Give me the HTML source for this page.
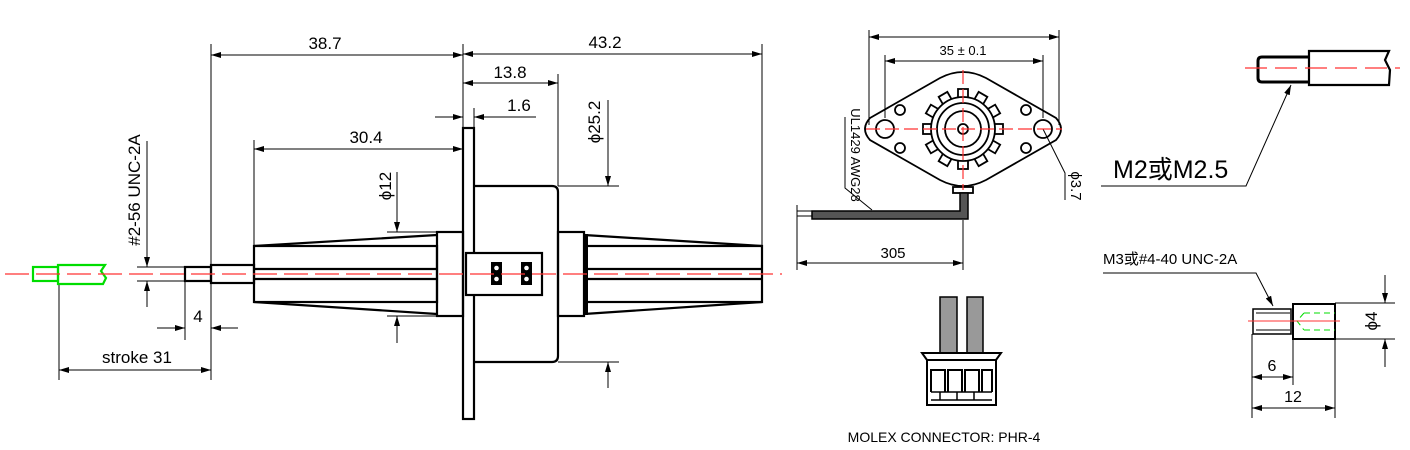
<!DOCTYPE html>
<html><head><meta charset="utf-8"><style>
html,body{margin:0;padding:0;background:#fff;}
svg{display:block}
text{font-family:"Liberation Sans Narrow","Liberation Sans","Noto Sans CJK SC",sans-serif;fill:#000}
</style></head><body>
<svg width="1410" height="450" viewBox="0 0 1410 450" xmlns="http://www.w3.org/2000/svg">
<defs>
<marker id="a" viewBox="0 0 10 6" refX="10" refY="3" markerWidth="10" markerHeight="6" markerUnits="userSpaceOnUse" orient="auto-start-reverse"><path d="M0,0L10,3L0,6z" fill="#000"/></marker>
</defs>
<g stroke="#000" stroke-width="1" fill="none">
<line x1="211" y1="44" x2="211" y2="380"/>
<line x1="463" y1="44" x2="463" y2="128"/>
<line x1="762" y1="44" x2="762" y2="246"/>
<line x1="558" y1="74" x2="558" y2="186"/>
<line x1="474" y1="108" x2="474" y2="128"/>
<line x1="254" y1="140" x2="254" y2="246"/>
<line x1="59" y1="284" x2="59" y2="380"/>
<line x1="185" y1="281" x2="185" y2="340"/>
<line x1="137" y1="267" x2="185" y2="267"/>
<line x1="137" y1="281" x2="185" y2="281"/>
<line x1="387" y1="232" x2="437" y2="232"/>
<line x1="387" y1="316" x2="437" y2="316"/>
<line x1="558" y1="186" x2="619" y2="186"/>
<line x1="558" y1="362" x2="619" y2="362"/>
<line x1="211" y1="55" x2="463" y2="55" marker-start="url(#a)" marker-end="url(#a)"/>
<line x1="463" y1="54" x2="762" y2="54" marker-start="url(#a)" marker-end="url(#a)"/>
<line x1="463" y1="83" x2="558" y2="83" marker-start="url(#a)" marker-end="url(#a)"/>
<line x1="435" y1="117" x2="463" y2="117" marker-end="url(#a)"/>
<line x1="536" y1="117" x2="474" y2="117" marker-end="url(#a)"/>
<line x1="254" y1="149" x2="463" y2="149" marker-start="url(#a)" marker-end="url(#a)"/>
<line x1="157" y1="328" x2="185" y2="328" marker-end="url(#a)"/>
<line x1="238" y1="328" x2="211" y2="328" marker-end="url(#a)"/>
<line x1="59" y1="370" x2="211" y2="370" marker-start="url(#a)" marker-end="url(#a)"/>
<line x1="147" y1="141" x2="147" y2="267" marker-end="url(#a)"/>
<line x1="147" y1="307" x2="147" y2="281" marker-end="url(#a)"/>
<line x1="397" y1="172" x2="397" y2="232" marker-end="url(#a)"/>
<line x1="397" y1="343" x2="397" y2="316" marker-end="url(#a)"/>
<line x1="608" y1="100" x2="608" y2="186" marker-end="url(#a)"/>
<line x1="608" y1="388" x2="608" y2="362" marker-end="url(#a)"/>
</g>
<g stroke="#000" stroke-width="2.2" fill="none">
<rect x="185" y="267" width="26" height="14"/>
<rect x="211" y="265" width="43" height="18"/>
<path d="M254,246L437,235M254,302L437,314"/>
<rect x="254" y="246" width="183" height="56"/>
<line x1="254" y1="269" x2="437" y2="269"/>
<line x1="254" y1="279" x2="437" y2="279"/>
<rect x="437" y="232" width="26" height="84"/>
<rect x="463" y="128" width="11" height="291"/>
<path d="M474,186H552Q558,186 558,192V356Q558,362 552,362H474"/>
<rect x="466" y="253" width="76" height="42" fill="#fff"/>
<rect x="558" y="232" width="26" height="84"/>
<path d="M584,235L762,246M584,314L762,302"/>
<rect x="586" y="246" width="176" height="56"/>
<line x1="586" y1="269" x2="762" y2="269"/>
<line x1="586" y1="279" x2="762" y2="279"/>
<line x1="586" y1="234" x2="586" y2="315" stroke-width="4"/>
</g>
<rect x="491" y="262" width="11" height="23" fill="#000"/>
<rect x="521" y="262" width="11" height="23" fill="#000"/>
<g fill="#fff"><circle cx="496.5" cy="268" r="2.3"/><circle cx="496.5" cy="279" r="2.3"/><circle cx="526.5" cy="268" r="2.3"/><circle cx="526.5" cy="279" r="2.3"/></g>
<g stroke="#00dd00" stroke-width="2.2" fill="none">
<rect x="33" y="267" width="25" height="14"/>
<path d="M58,265H105L101,271L106,278L103,284H58Z"/>
</g>
<line x1="5" y1="274" x2="782" y2="274" stroke="#f33" stroke-width="1.3" stroke-dasharray="24,7"/>
<g font-size="17">
<text x="325" y="49" text-anchor="middle">38.7</text>
<text x="605" y="48" text-anchor="middle">43.2</text>
<text x="510" y="78" text-anchor="middle">13.8</text>
<text x="519" y="111" text-anchor="middle">1.6</text>
<text x="366" y="143" text-anchor="middle">30.4</text>
<text x="198" y="322" text-anchor="middle">4</text>
<text x="137" y="363" text-anchor="middle">stroke 31</text>
<text transform="translate(140,190) rotate(-90)" text-anchor="middle">#2-56 UNC-2A</text>
<text transform="translate(391,186) rotate(-90)" text-anchor="middle">ϕ12</text>
<text transform="translate(600,122) rotate(-90)" text-anchor="middle">ϕ25.2</text>
</g>
<g stroke="#000" stroke-width="1" fill="none">
<line x1="869" y1="30" x2="869" y2="125"/>
<line x1="1059" y1="30" x2="1059" y2="125"/>
<line x1="885" y1="55" x2="885" y2="118"/>
<line x1="1043" y1="55" x2="1043" y2="118"/>
<line x1="869" y1="37" x2="1059" y2="37" marker-start="url(#a)" marker-end="url(#a)"/>
<line x1="885" y1="61" x2="1043" y2="61" marker-start="url(#a)" marker-end="url(#a)"/>
<path d="M1043,129L1065,173V200"/>
<path d="M872,210L845,188V117"/>
<line x1="797" y1="205" x2="797" y2="270"/>
<line x1="963" y1="220" x2="963" y2="270"/>
<line x1="797" y1="263" x2="963" y2="263" marker-start="url(#a)" marker-end="url(#a)"/>
<path d="M797,211H812M797,216H812"/>
</g>
<g stroke="#000" stroke-width="1.8" fill="none">
<path d="M870,118L940,78Q963,66 986,78L1056,118Q1066,129 1056,140L986,180Q963,192 940,180L870,140Q860,129 870,118Z"/>
<circle cx="885" cy="129" r="9"/><circle cx="1043" cy="129" r="9"/>
<circle cx="900" cy="110" r="5"/><circle cx="900" cy="148" r="5"/>
<circle cx="1026" cy="110" r="5"/><circle cx="1026" cy="148" r="5"/>
<g id="t"><rect x="958" y="89" width="10" height="14" fill="#fff"/></g>
<use href="#t" transform="rotate(30 963 129)"/><use href="#t" transform="rotate(60 963 129)"/><use href="#t" transform="rotate(90 963 129)"/><use href="#t" transform="rotate(120 963 129)"/><use href="#t" transform="rotate(150 963 129)"/><use href="#t" transform="rotate(180 963 129)"/><use href="#t" transform="rotate(210 963 129)"/><use href="#t" transform="rotate(240 963 129)"/><use href="#t" transform="rotate(270 963 129)"/><use href="#t" transform="rotate(300 963 129)"/><use href="#t" transform="rotate(330 963 129)"/>
<circle cx="963" cy="129" r="32" fill="#fff"/>
<circle cx="963" cy="129" r="26"/><circle cx="963" cy="129" r="18"/>
<circle cx="963" cy="129" r="5"/>
<rect x="953" y="187" width="20" height="6"/>
</g>
<path d="M960,193V211H812V219H968V193Z" fill="#555" stroke="#000" stroke-width="1.5"/>
<g stroke="#f33" stroke-width="1.2" stroke-dasharray="14,5"><line x1="866" y1="129" x2="1062" y2="129"/><line x1="963" y1="70" x2="963" y2="190"/></g>
<g font-size="13">
<text x="963" y="55" text-anchor="middle">35 ± 0.1</text>
<text x="893" y="258" text-anchor="middle" font-size="15">305</text>
<text transform="translate(851,155) rotate(90)" text-anchor="middle">UL1429 AWG28</text>
<text transform="translate(1071,186) rotate(90)" text-anchor="middle" font-size="15">ϕ3.7</text>
<text x="944" y="442" text-anchor="middle" font-size="14">MOLEX CONNECTOR: PHR-4</text>
</g>
<g stroke="#000" stroke-width="1.5" fill="none">
<rect x="940" y="297" width="17" height="56" fill="#999"/>
<rect x="967" y="297" width="16" height="56" fill="#999"/>
<path d="M922,353H1001L996,360H927Z" stroke-width="2"/>
<rect x="927" y="360" width="69" height="45" stroke-width="2"/>
<path d="M931,392V370H945V392M948,392V370H962V392M965,392V370H979V392M982,392V370H992V392" stroke-width="2"/>
<path d="M931,392H992M931,400H992M940,392V400M957,392V400M974,392V400" />
</g>
<g stroke="#000" stroke-width="2.2" fill="none">
<path d="M1309,57H1262Q1258,57 1258,61V78Q1258,82 1262,82H1309" stroke-width="3"/>
<path d="M1309,51H1389L1385,60L1390,70L1389,85H1309Z"/>
<rect x="1253" y="309" width="38" height="25" stroke-width="1.5"/>
<rect x="1293" y="304" width="42" height="35" stroke-width="2"/>
</g>
<g stroke="#000" stroke-width="1" fill="none">
<path d="M1101,186H1246L1291,85" marker-end="url(#a)"/>
<path d="M1103,273H1256L1273,306" marker-end="url(#a)"/>
<line x1="1335" y1="303" x2="1395" y2="303"/><line x1="1335" y1="339" x2="1395" y2="339"/>
<line x1="1385" y1="275" x2="1385" y2="303" marker-end="url(#a)"/>
<line x1="1385" y1="367" x2="1385" y2="339" marker-end="url(#a)"/>
<line x1="1252" y1="334" x2="1252" y2="418"/><line x1="1293" y1="339" x2="1293" y2="385"/><line x1="1335" y1="339" x2="1335" y2="418"/>
<line x1="1252" y1="377" x2="1293" y2="377" marker-start="url(#a)" marker-end="url(#a)"/>
<line x1="1252" y1="408" x2="1335" y2="408" marker-start="url(#a)" marker-end="url(#a)"/>
<line x1="1256" y1="313" x2="1290" y2="313"/><line x1="1256" y1="330" x2="1290" y2="330"/>
</g>
<path d="M1304,313L1297,321L1304,330M1304,313H1335M1304,330H1335" stroke="#00dd00" stroke-width="1" stroke-dasharray="6,4" fill="none"/>
<line x1="1245" y1="68" x2="1400" y2="68" stroke="#f33" stroke-width="1.2" stroke-dasharray="22,8"/>
<line x1="1248" y1="321" x2="1340" y2="321" stroke="#f33" stroke-width="1"/>
<text x="1113" y="178" font-size="25">M2或M2.5</text>
<text x="1103" y="264" font-size="15">M3或#4-40 UNC-2A</text>
<text x="1272" y="371" text-anchor="middle" font-size="16">6</text>
<text x="1293" y="402" text-anchor="middle" font-size="16">12</text>
<text transform="translate(1377,321) rotate(-90)" text-anchor="middle" font-size="17">ϕ4</text>
</svg>
</body></html>
